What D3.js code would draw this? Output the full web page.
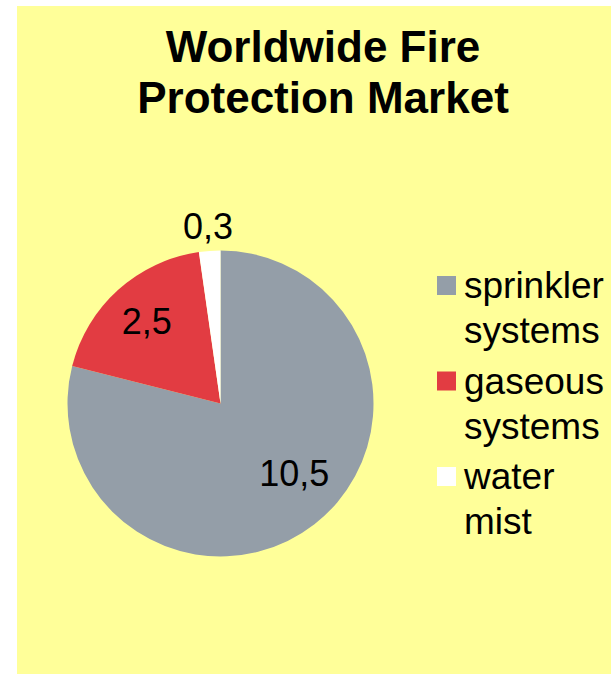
<!DOCTYPE html>
<html>
<head>
<meta charset="utf-8">
<script src="https://cdn.jsdelivr.net/npm/d3@7"></script>
<style>
  html, body { margin: 0; padding: 0; background: #ffffff; }
  svg { display: block; }
  text { font-family: "Liberation Sans", Arial, sans-serif; }
</style>
</head>
<body>
<svg id="chart" width="611" height="674"></svg>
<script>
// Market size by system type (billions), labelled with decimal commas
const categories = ["sprinkler systems", "gaseous systems", "water mist"];
const values = [10.5, 2.5, 0.3];
const valueLabels = ["10,5", "2,5", "0,3"];
const legendLines = [["sprinkler", "systems"], ["gaseous", "systems"], ["water", "mist"]];
const titleLines = ["Worldwide Fire", "Protection Market"];
const colors = ["#949ea8", "#e23c42", "#ffffff"];

const W = 611, H = 674;
const svg = d3.select("#chart");

// chart area background
svg.append("rect")
  .attr("x", 17).attr("y", 6)
  .attr("width", W - 17).attr("height", H - 6)
  .attr("fill", "#ffff99");

// title
const title = svg.append("text")
  .attr("text-anchor", "middle")
  .attr("font-weight", "bold")
  .attr("font-size", 44)
  .attr("fill", "#000");
titleLines.forEach((t, i) => {
  title.append("tspan")
    .attr("x", 323)
    .attr("y", 62 + i * 51)
    .text(t);
});

// pie
const cx = 220.5, cy = 403.5, r = 153;
const pie = d3.pie().sort(null).value(d => d)
  .startAngle(0).endAngle(2 * Math.PI);
const arcs = pie(values);
const arc = d3.arc().innerRadius(0).outerRadius(r);
const color = d3.scaleOrdinal().domain(categories).range(colors);

const g = svg.append("g").attr("transform", `translate(${cx},${cy})`);
g.selectAll("path.slice")
  .data(arcs)
  .join("path")
  .attr("class", "slice")
  .attr("d", arc)
  .attr("fill", (d, i) => color(categories[i]));

// value labels: inside for the large slices, outside for the thin one;
// the biggest slice's label sits a little clockwise-back from its bisector
const thin = d => (d.endAngle - d.startAngle) < 0.3;
const labelRadius = d => thin(d) ? r * 1.16 : (d.index === 0 ? r * 0.667 : r * 0.72);
const labelAngle = d => (d.startAngle + d.endAngle) / 2 - (d.index === 0 ? 0.148 : 0);
g.selectAll("text.val")
  .data(arcs)
  .join("text")
  .attr("class", "val")
  .attr("text-anchor", "middle")
  .attr("dominant-baseline", "central")
  .attr("font-size", 36)
  .attr("fill", "#000")
  .attr("x", d => Math.sin(labelAngle(d)) * labelRadius(d))
  .attr("y", d => -Math.cos(labelAngle(d)) * labelRadius(d))
  .text((d, i) => valueLabels[i]);

// legend
const legend = svg.append("g").attr("transform", "translate(437,0)");
const rowY = d3.scalePoint().domain(categories).range([298, 489]);
categories.forEach((c, i) => {
  const y0 = rowY(c);
  legend.append("rect")
    .attr("x", 0).attr("y", y0 - 22)
    .attr("width", 19).attr("height", 19)
    .attr("fill", color(c));
  const t = legend.append("text")
    .attr("font-size", 37)
    .attr("fill", "#000");
  legendLines[i].forEach((line, j) => {
    t.append("tspan")
      .attr("x", 27)
      .attr("y", y0 + j * 45)
      .text(line);
  });
});
</script>
</body>
</html>
